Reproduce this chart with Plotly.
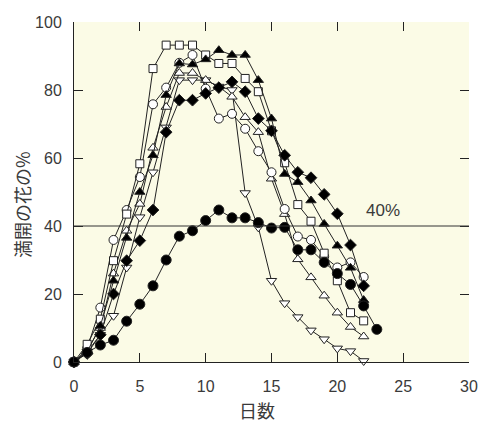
import plotly.graph_objects as go

days = list(range(0, 23))
days_fc = list(range(0, 24))

filled_circle = [0, 2.8, 5, 6.4, 12, 17, 22.4, 30, 37, 38.6, 41.6, 44.7, 42.4, 42.4, 41, 39.4, 39.6, 33, 33, 29.3, 26, 22.8, 16.5, 9.6]
open_square = [0, 5.2, 12.6, 29.8, 43.5, 58.3, 86.3, 93.2, 93.2, 93.2, 90.3, 87.8, 87.8, 83.4, 79.5, 68, 58.6, 46.3, 41.4, 32, 23.9, 14.5, 12.1]
open_circle = [0, 4, 16, 35.9, 44.7, 54.4, 75.8, 80.7, 88, 90.3, 80.4, 71.6, 73, 68.6, 62, 55.8, 45, 36.9, 35.9, 31, 27.8, 29.3, 25]
filled_triangle = [0, 3, 10.6, 23.9, 36.5, 50, 60.8, 78.5, 87.8, 87.5, 89, 91.7, 90.3, 90.3, 82.9, 71.6, 55.3, 52.9, 47.5, 40.6, 34.2, 27.7, 18.2]
open_triangle_up = [0, 3.5, 10, 26, 38.6, 46.5, 63, 75, 85, 85, 82.9, 81, 78, 72, 67.6, 53.9, 43.5, 30.2, 24.9, 19.5, 14.5, 10.3, 7.5]
filled_diamond = [0, 2.5, 8, 20, 29.8, 35.7, 44.7, 67.6, 77, 77, 79, 80.7, 82.4, 79.5, 71.6, 68, 60.8, 55.8, 54.2, 49.3, 43.6, 34.4, 22.4]
open_triangle_down = [0, 3, 8, 13.6, 27.8, 42.6, 55.8, 69, 82.9, 82.9, 82.9, 81, 80, 49.7, 39.6, 23.9, 17.3, 13.2, 9.3, 6.7, 4, 3.2, 0.3]

x_ticks = [0, 5, 10, 15, 20, 25, 30]
y_ticks = [0, 20, 40, 60, 80, 100]
ref_level = 40

series = [
    (days, open_triangle_down, "triangle-down", "white", 9),
    (days, open_triangle_up, "triangle-up", "white", 9),
    (days, open_circle, "circle", "white", 9),
    (days, open_square, "square", "white", 8),
    (days, filled_diamond, "diamond", "black", 9),
    (days, filled_triangle, "triangle-up", "black", 9),
    (days_fc, filled_circle, "circle", "black", 10),
]

fig = go.Figure()

fig.add_shape(type="line", xref="paper", x0=0, x1=1, yref="y", y0=ref_level, y1=ref_level,
              line=dict(color="#333333", width=1))

for xs, ys, sym, fill, size in series:
    fig.add_trace(go.Scatter(
        x=xs, y=ys, mode="lines+markers",
        line=dict(color="#222222", width=1),
        marker=dict(symbol=sym, size=size, color=fill, line=dict(color="#222222", width=1)),
        showlegend=False, cliponaxis=False,
    ))

fig.add_trace(go.Scatter(x=[None], y=[None], xaxis="x2", yaxis="y2", showlegend=False))

font_main = "Liberation Sans, Arial, sans-serif"
common = dict(ticks="inside", ticklen=9, tickcolor="#222", showgrid=False, zeroline=False,
              automargin=False)
fig.update_layout(
    width=480, height=427,
    margin=dict(l=74, r=11, t=22, b=65, autoexpand=False),
    paper_bgcolor="white",
    plot_bgcolor="#FBFBE6",
    font=dict(family=font_main, size=16, color="#3a3a3a"),
    xaxis=dict(range=[0, 30], tickvals=x_ticks, showline=True, linecolor="#222", linewidth=1,
               ticklabelstandoff=10, **common),
    yaxis=dict(range=[0, 100], tickvals=y_ticks, showline=True, linecolor="#222", linewidth=1,
               ticklabelstandoff=8, **common),
    xaxis2=dict(range=[0, 30], tickvals=x_ticks, showticklabels=False, overlaying="x",
                side="top", showline=False, **common),
    yaxis2=dict(range=[0, 100], tickvals=y_ticks, showticklabels=False, overlaying="y",
                side="right", showline=False, **common),
    annotations=[
        dict(text="40%", x=23.5, y=44.5, xref="x", yref="y", showarrow=False,
             xanchor="center", yanchor="middle",
             font=dict(size=17, color="#3a3a3a", family=font_main)),
        dict(text="満開の花の%", x=-0.1316, y=0.462, xref="paper", yref="paper", showarrow=False,
             xanchor="center", yanchor="middle",
             textangle=-90, font=dict(size=18, color="#3a3a3a", family="Noto Sans CJK JP")),
        dict(text="日数", x=0.463, y=-0.14, xref="paper", yref="paper", showarrow=False,
             xanchor="center", yanchor="middle",
             font=dict(size=18, color="#3a3a3a", family="Noto Sans CJK JP")),
    ],
)

fig.write_html("out.html", config={"displayModeBar": False},
               post_script="document.body.style.margin='0';document.body.style.overflow='hidden';")
